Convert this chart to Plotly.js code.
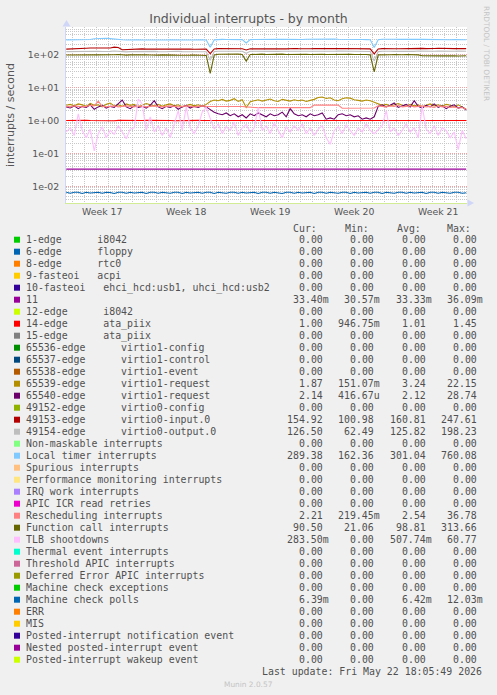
<!DOCTYPE html>
<html><head><meta charset="utf-8">
<script src="https://cdn.plot.ly/plotly-3.0.1.min.js"></script>
<style>html,body{margin:0;padding:0;background:#f0f0f0;}#chart{width:497px;height:695px;}</style>
</head><body><div id="chart"></div>
<script>
// ---- time base: one sample every 8 hours ----
const seriesStart = '2026-04-19 12:00:00';
const stepHours = 8;
const rangeStart = '2026-04-19 11:31:00';
const rangeEnd = '2026-05-22 21:36:00';
const weekStarts = ['2026-04-26','2026-05-03','2026-05-10','2026-05-17'];
const weekMids = ['2026-04-22 12:00','2026-04-29 12:00','2026-05-06 12:00','2026-05-13 12:00','2026-05-20 12:00'];
const weekLabels = ['Week 17','Week 18','Week 19','Week 20','Week 21'];
const yTickVals = [0.01, 0.1, 1, 10, 100];
const yTickText = ['1e-02','1e-01','1e+00','1e+01','1e+02'];

// ---- visible series (interrupts / second) ----
const irq11 = [0.0334,0.0334,0.0333,0.0334,0.0335,0.0334,0.0334,0.0333,0.0334,0.0334,0.0335,0.0334,0.0334,0.0334,0.0333,0.0334,0.0334,0.0335,0.0334,0.0334,0.0334,0.0333,0.0334,0.0334,0.0334,0.0335,0.0334,0.0334,0.0333,0.0334,0.0334,0.0334,0.0335,0.0334,0.0334,0.0334,0.0333,0.0334,0.0334,0.0335,0.0334,0.0334,0.0334,0.0333,0.0334,0.0334,0.0334,0.0335,0.0334,0.0334,0.0333,0.0334,0.0334,0.0334,0.0335,0.0334,0.0334,0.0333,0.0334,0.0334,0.0334,0.0335,0.0334,0.0334,0.0334,0.0333,0.0334,0.0334,0.0335,0.0334,0.0334,0.0334,0.0333,0.0334,0.0334,0.0334,0.0335,0.0334,0.0334,0.0333,0.0334,0.0334,0.0334,0.0335,0.0334,0.0334,0.0334,0.0333,0.0334,0.0334,0.0334,0.0335,0.0334,0.0334,0.0333,0.0334,0.0334,0.0334,0.0335,0.0334,0.0334];
const irq14 = [1.00,1.01,0.99,1.00,1.00,1.01,1.00,0.99,1.00,1.01,1.00,1.00,0.99,1.01,1.00,1.00,1.01,0.99,1.00,1.00,1.01,1.00,0.99,1.00,1.01,1.00,1.00,0.99,1.00,1.01,1.00,1.00,0.99,1.01,1.00,1.00,0.98,1.00,1.01,0.99,1.00,1.00,1.01,1.00,0.99,0.99,1.00,1.01,1.00,1.00,0.99,1.01,1.00,1.00,1.01,0.99,1.00,1.00,1.01,1.00,0.99,1.00,1.01,1.00,1.00,0.99,1.00,1.01,1.00,1.00,0.99,1.01,1.00,1.00,1.01,0.99,1.00,0.98,1.01,1.00,0.99,1.00,1.01,1.00,1.00,0.99,1.01,1.00,1.00,1.01,0.99,1.00,1.00,1.01,1.00,0.99,1.00,1.01,1.00,1.00,1.00];
const virtio1Req39 = [2.9,3.1,2.8,3.2,3.0,2.7,3.3,2.9,3.0,2.6,3.1,3.4,2.8,3.0,2.7,3.2,2.9,3.1,2.6,2.9,3.3,3.0,2.8,3.1,2.7,3.0,3.2,2.8,3.0,2.6,2.9,3.1,2.8,3.0,2.7,3.1,
 3.8,4.2,4.0,4.4,3.9,4.1,4.6,3.8,4.3,2.5,3.7,4.0,4.3,3.9,4.2,4.5,4.0,3.8,4.4,4.1,3.9,4.3,4.0,4.2,3.8,4.1,4.4,5.0,5.2,4.7,4.9,4.2,4.0,4.6,4.9,4.8,4.3,4.1,3.9,4.2,4.0,3.6,
 3.2,2.9,3.1,2.8,3.0,3.3,2.9,2.7,3.1,2.8,3.0,2.6,2.9,3.2,2.8,3.0,2.7,3.1,2.9,2.6,3.0,2.5,2.2];
const virtio1Req40 = [2.6,2.4,2.8,2.3,2.7,2.5,3.0,2.2,2.6,2.9,2.4,2.7,2.5,3.3,4.2,2.6,2.3,2.8,2.5,2.7,2.4,2.9,4.0,2.6,2.3,2.7,2.5,2.8,2.2,2.6,2.9,2.4,2.7,2.5,2.8,2.6,
 2.1,1.8,1.6,1.5,1.7,1.4,1.6,1.3,1.5,1.2,1.6,1.4,1.7,1.5,1.3,1.6,1.4,1.5,1.8,1.3,2.3,1.6,1.4,1.5,1.3,1.6,1.4,1.5,1.7,1.1,1.2,1.1,1.5,1.6,1.4,1.5,1.3,1.4,1.1,1.2,1.1,1.3,
 2.7,3.0,2.6,2.9,3.4,2.5,2.8,3.1,2.6,4.0,2.7,2.4,2.9,2.6,3.2,2.5,2.8,2.3,2.7,3.0,2.4,2.6,2.1];
const virtio0Input = [148,149,147,148,149,158,160,159,161,160,158,160,170,166,142,144,
 148,147,149,150,148,147,146,148,150,149,147,148,149,151,150,148,147,149,150,148,
 108,150,153,152,151,150,152,153,151,140,
 152,150,151,153,152,150,149,151,152,150,156,155,153,151,150,152,154,153,151,150,149,151,153,155,154,152,150,149,151,153,150,
 106,150,153,155,154,152,151,153,155,154,152,158,156,153,151,155,157,154,152,150,153,155,154,153];
const virtio0Output = [124,125,123,124,126,127,128,126,127,125,124,126,130,128,121,122,124,125,126,124,123,125,126,124,122,123,125,127,126,124,123,125,126,124,122,123,
 68,126,128,129,127,125,126,128,127,110,
 127,126,128,129,127,125,124,126,128,127,130,129,127,126,125,127,128,127,125,124,126,128,129,128,126,125,124,126,128,127,125,
 64,124,127,129,128,126,125,127,129,128,126,130,129,127,125,128,130,128,126,124,127,129,128,127];
const localTimer = [282,284,281,285,283,286,290,305,312,318,315,308,295,288,284,280,276,279,282,280,278,
 281,284,286,283,280,282,285,287,284,281,279,283,286,284,280,
 168,282,290,293,291,288,286,289,287,228,
 288,291,294,290,287,289,292,295,293,290,288,286,289,291,294,296,293,290,288,292,295,297,294,291,289,287,290,293,291,288,286,
 165,284,296,300,298,295,293,296,299,301,298,295,293,290,292,295,293,290,288,286,289,287,285,284];
const rescheduling = [2.7,2.6,2.8,2.7,2.6,2.7,2.9,2.8,3.9,2.7,2.6,2.7,2.8,2.6,2.7,2.8,2.7,2.6,2.8,2.7,2.6,2.7,2.8,2.7,2.6,2.7,2.8,2.7,2.6,2.7,2.8,2.7,2.6,2.7,2.8,2.7,
 2.65,2.68,2.66,2.67,2.69,2.66,2.65,2.67,2.68,2.6,
 2.5,2.48,2.47,2.49,2.5,2.48,2.46,2.48,2.5,2.49,2.47,2.48,2.5,2.49,2.48,2.47,
 2.95,2.97,2.98,2.96,2.95,2.97,2.94,
 2.36,2.35,2.37,2.36,2.35,2.36,2.37,2.35,2.4,
 2.8,2.7,2.6,2.8,2.7,2.9,2.6,2.7,2.8,2.6,2.7,2.8,2.6,2.7,2.5,2.8,2.6,2.7,2.5,2.6,2.4,2.5,2.2];
const functionCall = [98,99,97,98,100,99,101,100,99,98,97,99,100,101,98,97,99,100,98,97,99,98,96,97,99,100,98,97,96,98,99,97,98,96,97,95,
 27,98,103,104,102,105,103,104,102,64,
 101,103,105,104,102,103,105,106,104,102,103,104,106,105,103,102,104,105,103,101,102,104,103,101,102,103,101,102,100,101,99,
 30,99,101,102,100,101,99,100,102,101,100,99,93,92,94,93,91,92,93,94,92,91,92,93];
const tlbShootdowns = [0.45,0.6,0.35,1.6,0.5,0.3,0.55,0.12,0.4,0.65,
 0.3,0.5,0.38,0.7,0.45,0.28,0.55,0.6,4.5,3.2,
 0.5,1.3,0.45,0.7,0.35,0.6,0.3,0.8,2.0,0.5,
 2.6,0.6,0.4,0.7,1.8,2.5,1.2,0.55,0.8,0.4,
 0.65,0.5,0.9,0.35,0.6,0.75,0.45,0.6,2.5,0.5,
 0.7,0.4,0.85,0.5,0.3,0.65,0.45,0.7,0.5,0.8,
 0.4,0.6,0.35,0.55,0.7,0.3,0.19,0.5,0.65,0.4,
 0.75,0.5,0.35,0.6,0.45,0.8,0.5,0.4,0.55,0.7,
 2.0,0.45,0.6,0.35,0.5,0.8,0.45,0.6,0.3,2.7,
 0.55,0.4,0.7,0.35,0.6,0.5,0.3,0.45,0.13,0.5,0.28];
const mcPolls = [0.0066,0.0062,0.0066,0.0066,0.0061,0.0066,0.0063,0.0066,0.0066,0.0062,0.0066,0.0065,0.0061,0.0066,0.0066,0.0062,0.0066,0.0063,0.0066,0.0066,0.0061,0.0066,0.0066,0.0062,0.0066,0.0065,0.0062,0.0066,0.0066,0.0061,0.0066,0.0063,0.0066,0.0066,0.0062,0.0066,0.0066,0.0061,0.0066,0.0065,0.0062,0.0066,0.0066,0.0062,0.0066,0.0063,0.0066,0.0066,0.0061,0.0066,0.0066,0.0062,0.0066,0.0065,0.0061,0.0066,0.0066,0.0062,0.0066,0.0063,0.0066,0.0066,0.0061,0.0066,0.0066,0.0062,0.0066,0.0065,0.0062,0.0066,0.0066,0.0061,0.0066,0.0063,0.0066,0.0066,0.0062,0.0066,0.0066,0.0061,0.0066,0.0065,0.0062,0.0066,0.0066,0.0062,0.0066,0.0063,0.0066,0.0066,0.0061,0.0066,0.0066,0.0062,0.0066,0.0065,0.0062,0.0066,0.0066,0.0062,0.0064];

// ---- legend table ----
const legendNames = ['1-edge      i8042','6-edge      floppy','8-edge      rtc0','9-fasteoi   acpi',
 '10-fasteoi   ehci_hcd:usb1, uhci_hcd:usb2','11','12-edge      i8042','14-edge      ata_piix','15-edge      ata_piix',
 '65536-edge      virtio1-config','65537-edge      virtio1-control','65538-edge      virtio1-event',
 '65539-edge      virtio1-request','65540-edge      virtio1-request','49152-edge      virtio0-config',
 '49153-edge      virtio0-input.0','49154-edge      virtio0-output.0','Non-maskable interrupts',
 'Local timer interrupts','Spurious interrupts','Performance monitoring interrupts','IRQ work interrupts',
 'APIC ICR read retries','Rescheduling interrupts','Function call interrupts','TLB shootdowns',
 'Thermal event interrupts','Threshold APIC interrupts','Deferred Error APIC interrupts',
 'Machine check exceptions','Machine check polls','ERR','MIS','Posted-interrupt notification event',
 'Nested posted-interrupt event','Posted-interrupt wakeup event'];
const legendColors = ['#00CC00','#0066B3','#FF8000','#FFCC00','#330099','#990099','#CCFF00','#FF0000','#808080',
 '#008F00','#00487D','#B35A00','#B38F00','#6B006B','#8FB300','#B30000','#BEBEBE','#80FF80','#80C9FF','#FFC080',
 '#FFE680','#AA80FF','#EE00CC','#FF8080','#666600','#FFBFFF','#00FFCC','#CC6699','#999900','#00CC00','#0066B3',
 '#FF8000','#FFCC00','#330099','#990099','#CCFF00'];
const curVals = ['0.00','0.00','0.00','0.00','0.00','33.40m','0.00','1.00','0.00','0.00','0.00','0.00','1.87','2.14','0.00','154.92','126.50','0.00','289.38','0.00','0.00','0.00','0.00','2.21','90.50','283.50m','0.00','0.00','0.00','0.00','6.39m','0.00','0.00','0.00','0.00','0.00'];
const minVals = ['0.00','0.00','0.00','0.00','0.00','30.57m','0.00','946.75m','0.00','0.00','0.00','0.00','151.07m','416.67u','0.00','100.98','62.49','0.00','162.36','0.00','0.00','0.00','0.00','219.45m','21.06','0.00','0.00','0.00','0.00','0.00','0.00','0.00','0.00','0.00','0.00','0.00'];
const avgVals = ['0.00','0.00','0.00','0.00','0.00','33.33m','0.00','1.01','0.00','0.00','0.00','0.00','3.24','2.12','0.00','160.81','125.82','0.00','301.04','0.00','0.00','0.00','0.00','2.54','98.81','507.74m','0.00','0.00','0.00','0.00','6.42m','0.00','0.00','0.00','0.00','0.00'];
const maxVals = ['0.00','0.00','0.00','0.00','0.00','36.09m','0.00','1.45','0.00','0.00','0.00','0.00','22.15','28.74','0.00','247.61','198.23','0.00','760.08','0.00','0.00','0.00','0.00','36.78','313.66','60.77','0.00','0.00','0.00','0.00','12.03m','0.00','0.00','0.00','0.00','0.00'];
const statHeaders = ['Cur:','Min:','Avg:','Max:'];
const lastUpdate = 'Last update: Fri May 22 18:05:49 2026';

// ---- build ----
function timesFor(n){
  const t0 = Date.parse(seriesStart.replace(' ','T')+'Z');
  const out = [];
  for(let i=0;i<n;i++){ out.push(new Date(t0 + i*stepHours*3600000).toISOString().slice(0,19).replace('T',' ')); }
  return out;
}
const plotted = [
  [irq11,'#990099'],[irq14,'#FF0000'],[virtio1Req39,'#B38F00'],[virtio1Req40,'#6B006B'],
  [virtio0Input,'#B30000'],[virtio0Output,'#BEBEBE'],[localTimer,'#80C9FF'],[rescheduling,'#FF8080'],
  [functionCall,'#666600'],[tlbShootdowns,'#FFBFFF'],[mcPolls,'#0066B3']
];
const traces = plotted.map(([ys,c]) => ({x: timesFor(ys.length), y: ys, type:'scatter', mode:'lines',
  line:{color:c, width:1.1}, hoverinfo:'skip', xaxis:'x', yaxis:'y'}));

const L=66, R=467, T=27, B=203;
const px = x => (x-L)/(R-L);
const py = y => (B-y)/(B-T);
const mono = {family:'DejaVu Sans Mono', size:9.9, color:'#505050'};
const nb = s => s.replace(/ /g,'\u00a0');
const ann = [];
const shapes = [];
const row0 = 239.7, rowH = 12;
const colEnds = [322.7, 374.3, 425.7, 476.7];
const hdrStarts = [293.3, 345.0, 396.7, 447.3];
statHeaders.forEach((h,k)=>ann.push({text:h, x:px(hdrStarts[k]), y:py(228.3), xanchor:'left', yanchor:'middle'}));
const stats = [curVals, minVals, avgVals, maxVals];
legendNames.forEach((name,i)=>{
  const yc = row0 + i*rowH;
  shapes.push({type:'rect', xref:'paper', yref:'paper', x0:px(14), x1:px(20), y0:py(yc+3), y1:py(yc-3),
    fillcolor:legendColors[i], line:{width:0}});
  ann.push({text:nb(name), x:px(26.3), y:py(yc), xanchor:'left', yanchor:'middle'});
  stats.forEach((arr,k)=>{
    const v = arr[i];
    const hasUnit = /[a-z]$/i.test(v);
    ann.push({text:v, x:px(colEnds[k] + (hasUnit?5.96:0)), y:py(yc), xanchor:'right', yanchor:'middle'});
  });
});
ann.push({text:nb(lastUpdate), x:px(482.3), y:py(row0+36*rowH), xanchor:'right', yanchor:'middle'});
ann.forEach(a=>{a.xref='paper'; a.yref='paper'; a.showarrow=false; a.borderpad=0; a.borderwidth=0; a.font=mono;});
ann.push({text:'interrupts / second', xref:'paper', yref:'paper', x:px(10), y:py(115), textangle:-90,
  showarrow:false, borderpad:0, borderwidth:0, xanchor:'center', yanchor:'middle',
  font:{family:'DejaVu Sans', size:11, color:'#555555'}});
ann.push({text:'RRDTOOL / TOBI OETIKER', xref:'paper', yref:'paper', x:px(487), y:py(53), textangle:90,
  showarrow:false, borderpad:0, borderwidth:0, xanchor:'center', yanchor:'middle',
  font:{family:'DejaVu Sans', size:7.4, color:'#c4c4c4'}});
ann.push({text:'Munin 2.0.57', xref:'paper', yref:'paper', x:px(248.5), y:py(684), showarrow:false,
  borderpad:0, borderwidth:0, xanchor:'center', yanchor:'middle',
  font:{family:'DejaVu Sans', size:7.4, color:'#c4c4c4'}});
// axis arrows
shapes.push({type:'path', xref:'paper', yref:'paper', path:`M ${px(62.5)} ${py(26.5)} L ${px(66.5)} ${py(20)} L ${px(70.5)} ${py(26.5)} Z`,
  fillcolor:'#cfd6f8', line:{width:0}});
shapes.push({type:'path', xref:'paper', yref:'paper', path:`M ${px(467.5)} ${py(199.5)} L ${px(474)} ${py(203)} L ${px(467.5)} ${py(206.5)} Z`,
  fillcolor:'#cfd6f8', line:{width:0}});

const gridMinor = '#c8c8c8', gridMajor = '#f0a0a0', dotted = '1px,1px';
const layout = {
  width:497, height:695, margin:{l:L, r:497-R, t:T, b:695-B, pad:0},
  paper_bgcolor:'#f0f0f0', plot_bgcolor:'#ffffff', showlegend:false,
  font:{family:'DejaVu Sans', size:9.33, color:'#555555'},
  title:{text:'Individual interrupts - by month', x:0.5, xref:'container', xanchor:'center',
    y:1-19/695, yref:'container', yanchor:'middle', font:{family:'DejaVu Sans', size:12.5, color:'#555555'}},
  xaxis:{type:'date', range:[rangeStart, rangeEnd], tickmode:'array', tickvals:weekMids, ticktext:weekLabels,
    showgrid:false, zeroline:false, ticks:'', showline:true, linecolor:'#d2eb95', linewidth:1,
    tickfont:{family:'DejaVu Sans', size:9.33, color:'#555555'},
    minor:{dtick:86400000, tick0:'2026-04-19', showgrid:true, gridcolor:gridMinor, griddash:dotted, gridwidth:1, ticks:''}},
  xaxis2:{type:'date', range:[rangeStart, rangeEnd], overlaying:'x', anchor:'y', side:'bottom',
    tickmode:'array', tickvals:weekStarts, showticklabels:false, ticks:'', showline:false, zeroline:false,
    showgrid:true, gridcolor:gridMajor, griddash:dotted, gridwidth:1},
  yaxis:{type:'log', range:[-2.505, 2.842], tickmode:'array', tickvals:yTickVals, ticktext:yTickText,
    showgrid:true, gridcolor:gridMajor, griddash:dotted, gridwidth:1, zeroline:false,
    showline:true, linecolor:'#cfd6f8', linewidth:1, ticks:'outside', ticklen:4, tickcolor:'rgba(0,0,0,0)',
    tickfont:{family:'DejaVu Sans', size:9.33, color:'#555555'},
    minor:{dtick:'D1', showgrid:true, gridcolor:gridMinor, griddash:dotted, gridwidth:1, ticks:''}},
  annotations: ann, shapes: shapes
};
Plotly.newPlot('chart', traces, layout, {staticPlot:true, displayModeBar:false});
</script></body></html>
